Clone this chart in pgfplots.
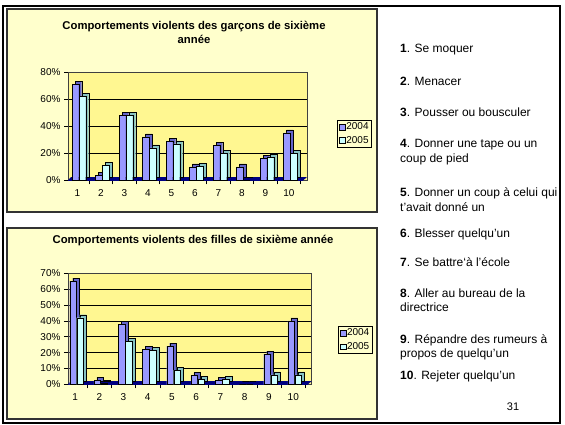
\documentclass[border=0pt]{standalone}
\usepackage{pgfplots}
\pgfplotsset{compat=1.18}
\usepackage{fontspec}
\setmainfont{Liberation Sans}

\definecolor{boxbg}{RGB}{255,255,204}
\definecolor{wall}{RGB}{255,247,145}
\definecolor{cA}{RGB}{153,153,255}
\definecolor{cAd}{RGB}{100,100,200}
\definecolor{cB}{RGB}{204,255,255}
\definecolor{cBd}{RGB}{135,195,195}
\definecolor{floorc}{RGB}{0,0,128}

\pgfplotsset{
  sqlegend/.style={legend image code/.code={\draw[##1, draw=black, line width=0.4pt] (0pt,-2.8pt) rectangle (5.6pt,2.8pt);}},
  barA/.style={fill=cA, draw=black, line width=0.4pt, bar shift=-2pt, bar width=6.6pt,
     preaction={fill=cAd, draw=black, line width=0.4pt, transform canvas={xshift=3pt,yshift=3pt}}},
  barB/.style={fill=cB, draw=black, line width=0.4pt, bar shift=5pt, bar width=6.6pt,
     preaction={fill=cBd, draw=black, line width=0.4pt, transform canvas={xshift=3pt,yshift=3pt}}},
  mychart/.style={
    scale only axis, anchor=south west,
    ybar, ymin=0,
    /pgf/number format/assume math mode=true,
    axis background/.style={fill=wall},
    axis line style={black!75, line width=0.5pt},
    ymajorgrids, grid style={black, line width=0.5pt},
    xtick={1,...,10},
    minor xtick={1.5,2.5,...,10.5},
    major x tick style={draw=none},
    tick align=outside, tick pos=left,
    major tick length=4pt, minor tick length=4pt,
    tick style={black, line width=0.5pt},
    ticklabel style={font=\fontsize{10}{12}\selectfont},
    xticklabel style={yshift=-1.5pt},
    legend cell align=left,
    legend style={draw=black, line width=0.5pt, fill=boxbg,
      font=\fontsize{10}{12}\selectfont, inner xsep=2pt, inner ysep=1.5pt,
      row sep=3pt, nodes={inner sep=1pt}},
  },
}

\newcommand{\txtitem}[3]{\node[anchor=west, inner sep=0pt, font=\fontsize{12}{14}\selectfont] at (400,424-#1) {\textbf{#2}. #3};}
\newcommand{\txtcont}[2]{\node[anchor=west, inner sep=0pt, font=\fontsize{12}{14}\selectfont] at (400,424-#1) {#2};}

\begin{document}
\begin{tikzpicture}[x=1pt,y=1pt]
\path[use as bounding box] (0,0) rectangle (565,424);
\fill[white] (0,0) rectangle (565,424);
% outer frame
\draw[black, line width=2pt] (3,1) rectangle (560,418);
% chart boxes
\draw[fill=boxbg, draw=black!80, line width=1.3pt] (7,424-9) rectangle (377,424-212);
\draw[fill=boxbg, draw=black!80, line width=1.3pt] (7,424-228) rectangle (377,424-419);

% titles
\node[align=center, font=\bfseries\fontsize{11.3}{14}\selectfont] at (194,424-32) {Comportements violents des garçons de sixième\\année};
\node[font=\bfseries\fontsize{11.3}{14}\selectfont] at (193,424-241) {Comportements violents des filles de sixième année};

% top chart: boys
\begin{axis}[mychart, at={(68pt,243.7pt)}, width=239pt, height=108.3pt,
  xmin=0.6, xmax=10.77, ymax=80,
  ytick={0,20,40,60,80}, yticklabels={0\%,20\%,40\%,60\%,80\%},
  legend style={at={(axis description cs:1.126,0.43)}, anchor=west}]
\fill[floorc] ([xshift=-1.3pt,yshift=-1.4pt]rel axis cs:0,0) -- ([xshift=-5.3pt,yshift=-1.4pt]rel axis cs:1,0)
   -- ([yshift=3.3pt]rel axis cs:1,0) -- ([xshift=3pt,yshift=3.3pt]rel axis cs:0,0) -- cycle;
\addplot[barA, forget plot] coordinates {(1,71) (2,3.5) (3,48) (4,32) (5,29) (6,10) (7,26) (8,10) (9,16) (10,35)};
\addplot[barB, forget plot] coordinates {(1,62) (2,11) (3,48) (4,24) (5,27) (6,10.5) (7,20) (8,0) (9,17) (10,20)};
\addlegendimage{sqlegend, fill=cA}
\addlegendentry{2004}
\addlegendimage{sqlegend, fill=cB}
\addlegendentry{2005}
\end{axis}

% bottom chart: girls
\begin{axis}[mychart, at={(68pt,39.7pt)}, width=243.7pt, height=111pt,
  xmin=0.71, xmax=10.76, ymax=70,
  ytick={0,10,...,70}, yticklabels={0\%,10\%,20\%,30\%,40\%,50\%,60\%,70\%},
  legend style={at={(axis description cs:1.107,0.40)}, anchor=west}]
\fill[floorc] ([xshift=-1.3pt,yshift=-1.4pt]rel axis cs:0,0) -- ([xshift=-5.3pt,yshift=-1.4pt]rel axis cs:1,0)
   -- ([yshift=3.3pt]rel axis cs:1,0) -- ([xshift=3pt,yshift=3.3pt]rel axis cs:0,0) -- cycle;
\addplot[barA, forget plot] coordinates {(1,65) (2,2.5) (3,38) (4,22) (5,24) (6,5.5) (7,2.5) (8,0) (9,19) (10,40)};
\addplot[barB, forget plot] coordinates {(1,42) (2,0.5) (3,27) (4,21.5) (5,9) (6,3) (7,3) (8,0) (9,6) (10,6)};
\addlegendimage{sqlegend, fill=cA}
\addlegendentry{2004}
\addlegendimage{sqlegend, fill=cB}
\addlegendentry{2005}
\end{axis}

% right-hand text
\txtitem{50}{1}{Se moquer}
\txtitem{81}{2}{Menacer}
\txtitem{112}{3}{Pousser ou bousculer}
\txtitem{145}{4}{Donner une tape ou un}
\txtcont{159}{coup de pied}
\txtitem{193}{5}{Donner un coup à celui qui}
\txtcont{207}{t'avait donné un}
\txtitem{234}{6}{Blesser quelqu'un}
\txtitem{262}{7}{Se battre`à l'école}
\txtitem{293}{8}{Aller au bureau de la}
\txtcont{307}{directrice}
\txtitem{340}{9}{Répandre des rumeurs à}
\txtcont{354}{propos de quelqu'un}
\txtitem{376}{10}{Rejeter quelqu'un}
\node[font=\fontsize{11}{13}\selectfont] at (513,424-407) {31};
\end{tikzpicture}
\end{document}
